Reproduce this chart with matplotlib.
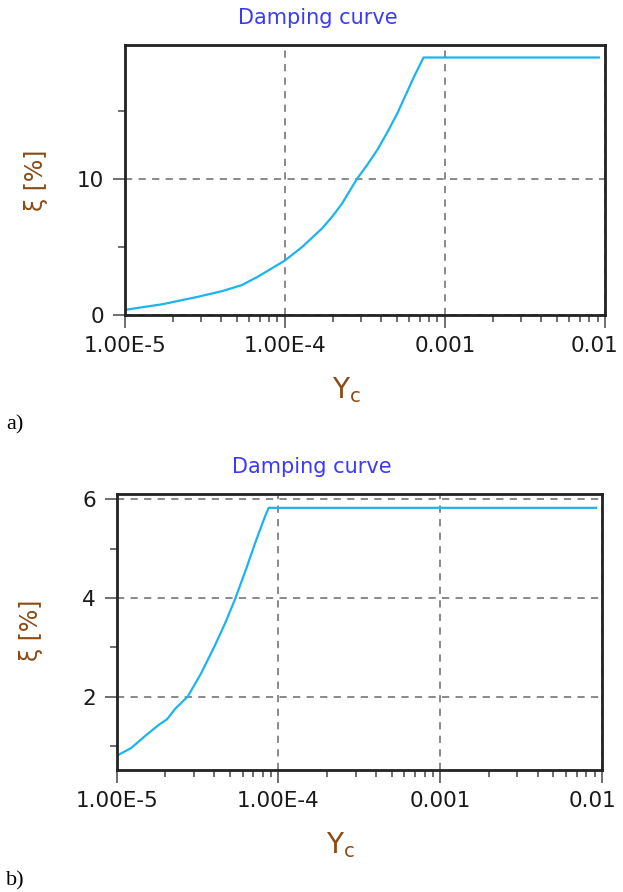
import numpy as np
import matplotlib
matplotlib.use('Agg')
import matplotlib.pyplot as plt
import matplotlib.transforms as mtransforms
from matplotlib.ticker import LogLocator, FixedLocator, NullFormatter

# a) damping curve values
gamma_a = [1.0e-5, 1.74e-5, 2.9e-5, 4.08e-5, 5.4e-5, 6.8e-5, 1.0e-4, 1.29e-4,
           1.71e-4, 2.0e-4, 2.28e-4, 2.82e-4, 3.3e-4, 3.81e-4, 4.4e-4, 5.08e-4,
           5.7e-4, 6.4e-4, 7.36e-4, 9.16e-3]
xi_a = [0.37, 0.8, 1.35, 1.76, 2.2, 2.82, 4.0, 5.02,
        6.37, 7.3, 8.2, 10.0, 11.1, 12.2, 13.5, 14.9,
        16.2, 17.5, 18.95, 18.95]

# b) damping curve
gamma_b = [1.03e-5, 1.23e-5, 1.5e-5, 1.83e-5, 2.05e-5, 2.3e-5, 2.75e-5, 3.3e-5,
           4.0e-5, 4.7e-5, 5.4e-5, 6.38e-5, 7.15e-5, 8.23e-5, 8.7e-5, 9.18e-3]
xi_b = [0.82, 0.955, 1.2, 1.43, 1.54, 1.75, 2.0, 2.45,
        3.0, 3.5, 3.98, 4.63, 5.1, 5.64, 5.83, 5.83]

xtick_vals = [1e-5, 1e-4, 1e-3, 1e-2]
xtick_labels = ['1.00E-5', '1.00E-4', '0.001', '0.01']

W, H = 623, 892
fig = plt.figure(figsize=(W / 100, H / 100), dpi=100)

line_col = '#1cb4ee'
brown = '#8a4a14'
title_col = '#3a3aff'


def setup(ax, ylim, yticks, yminor):
    ax.set_xscale('log')
    ax.set_xlim(1e-5, 1e-2)
    ax.set_ylim(*ylim)
    ax.set_xticks(xtick_vals)
    ax.set_xticklabels(xtick_labels)
    ax.xaxis.set_minor_locator(LogLocator(base=10, subs=np.arange(2, 10)))
    ax.xaxis.set_minor_formatter(NullFormatter())
    ax.set_yticks(yticks)
    ax.yaxis.set_minor_locator(FixedLocator(yminor))
    ax.grid(True, which='major', color='#808080', linestyle=(0, (4, 3.5)), linewidth=1.3)
    for s in ax.spines.values():
        s.set_linewidth(2)
        s.set_color('#222222')
    ax.tick_params(which='major', length=9, width=1.2, color='#555555', labelsize=15.5, pad=6,
                   labelcolor='#1a1a1a')
    ax.tick_params(which='minor', length=5, width=1.2, color='#555555')
    ax.tick_params(axis='x', which='both', top=False)
    ax.tick_params(axis='y', which='both', right=False)
    ax.set_axisbelow(True)
    # last x label sits a bit left of its tick so it stays in the picture
    lab = ax.get_xticklabels()[-1]
    lab.set_transform(lab.get_transform() + mtransforms.ScaledTranslation(-10 / 100, 0, fig.dpi_scale_trans))


def px(x, y):
    return x / W, 1 - y / H


# top chart
ax1 = fig.add_axes([0.2, 0.6469, 0.771, 0.3031])
ax1.plot(gamma_a, xi_a, color=line_col, linewidth=1.6)
setup(ax1, (0, 19.9), [0, 10], [5, 15])

# bottom chart
ax2 = fig.add_axes([0.1872, 0.1368, 0.7791, 0.3099])
ax2.plot(gamma_b, xi_b, color=line_col, linewidth=1.6)
setup(ax2, (0.51, 6.12), [2, 4, 6], [1, 3, 5])

# titles and axis labels
fig.text(*px(318, 18), 'Damping curve', color=title_col, fontsize=15, ha='center', va='center')
fig.text(*px(312, 467), 'Damping curve', color=title_col, fontsize=15, ha='center', va='center')

fig.text(*px(36, 180), 'ξ [%]', color=brown, fontsize=17, rotation=90, ha='center', va='center')
fig.text(*px(31, 630), 'ξ [%]', color=brown, fontsize=17, rotation=90, ha='center', va='center')

fig.text(*px(346, 390), r'$\mathregular{Y_c}$', color=brown, fontsize=20, ha='center', va='center')
fig.text(*px(340, 845), r'$\mathregular{Y_c}$', color=brown, fontsize=20, ha='center', va='center')

fig.text(*px(6, 425), 'a)', fontsize=16, family='Liberation Serif', ha='left', va='center')
fig.text(*px(6, 881), 'b)', fontsize=16, family='Liberation Serif', ha='left', va='center')

plt.savefig('out.png', dpi=100)
